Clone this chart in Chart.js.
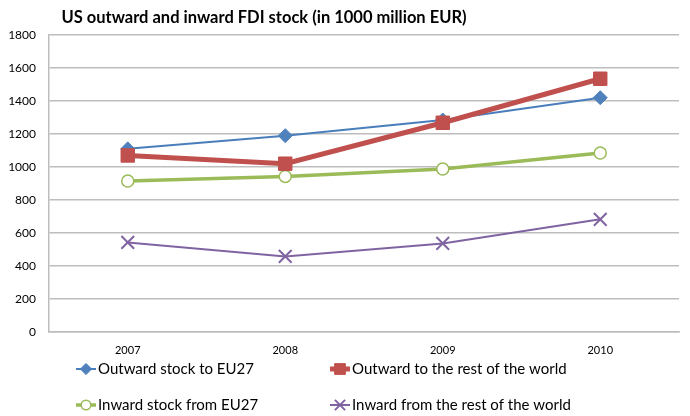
<!DOCTYPE html>
<html lang="en">
<head>
    <meta charset="UTF-8">
    <title>US outward and inward FDI stock</title>
    <style>
        body {
            margin: 0;
            background: white;
        }
        #fdiChart {
            display: block;
        }
    </style>
</head>
<body>
    <canvas id="fdiChart" width="690" height="416"></canvas>

    <script src="https://cdn.jsdelivr.net/npm/chart.js"></script>
    <script>
        const chartTitle = 'US outward and inward FDI stock (in 1000 million EUR)';
        const years = ['2007', '2008', '2009', '2010'];

        // values (1000 million EUR)
        const outwardToEU = [1110, 1190, 1285, 1420];
        const outwardToRest = [1070, 1020, 1268, 1535];
        const inwardFromEU = [915, 943, 988, 1085];
        const inwardFromRest = [543, 458, 537, 683];

        const yMin = 0;
        const yMax = 1800;
        const yStep = 200;

        const seriesNames = [
            'Outward stock to EU27',
            'Outward to the rest of the world',
            'Inward stock from EU27',
            'Inward from the rest of the world'
        ];

        const fontFamily = 'Lato, "Open Sans", sans-serif';
        const gridColor = '#bdbdbd';

        // draws the title and the two-column legend like the original
        const titleAndLegend = {
            id: 'titleAndLegend',
            afterDraw(chart) {
                const ctx = chart.ctx;
                ctx.save();
                ctx.fillStyle = '#000';
                ctx.font = 'bold 16.5px ' + fontFamily;
                ctx.textAlign = 'center';
                ctx.textBaseline = 'middle';
                ctx.fillText(chartTitle, 264, 18);

                const slots = [
                    { x: 97, y: 369 },
                    { x: 351, y: 369 },
                    { x: 97, y: 405 },
                    { x: 351, y: 405 }
                ];
                ctx.font = '15px ' + fontFamily;
                ctx.textAlign = 'left';
                chart.data.datasets.forEach((ds, i) => {
                    const s = slots[i];
                    ctx.strokeStyle = ds.borderColor;
                    ctx.lineWidth = ds.borderWidth;
                    ctx.beginPath();
                    ctx.moveTo(s.x - 21, s.y);
                    ctx.lineTo(s.x - 1, s.y);
                    ctx.stroke();

                    ctx.fillStyle = ds.pointBackgroundColor;
                    ctx.strokeStyle = ds.pointBorderColor;
                    ctx.lineWidth = ds.pointBorderWidth;
                    Chart.helpers.drawPoint(ctx, {
                        pointStyle: ds.pointStyle,
                        radius: ds.pointRadius * 0.8,
                        borderWidth: ds.pointBorderWidth,
                        rotation: 0
                    }, s.x - 11, s.y);

                    ctx.fillStyle = '#000';
                    ctx.fillText(ds.label, s.x + 1, s.y);
                });
                ctx.restore();
            }
        };

        new Chart(document.getElementById('fdiChart'), {
            type: 'line',
            data: {
                labels: years,
                datasets: [{
                        label: seriesNames[0],
                        data: outwardToEU,
                        borderColor: '#4a7ebb',
                        borderWidth: 2,
                        pointStyle: 'rectRot',
                        pointRadius: 7,
                        pointBackgroundColor: '#4f81bd',
                        pointBorderColor: '#4f81bd',
                        pointBorderWidth: 1,
                        order: 2
                    },
                    {
                        label: seriesNames[1],
                        data: outwardToRest,
                        borderColor: '#c0504d',
                        borderWidth: 5,
                        pointStyle: 'rect',
                        pointRadius: 9.5,
                        pointBackgroundColor: '#c0504d',
                        pointBorderColor: '#c0504d',
                        pointBorderWidth: 1,
                        order: 1
                    },
                    {
                        label: seriesNames[2],
                        data: inwardFromEU,
                        borderColor: '#9bbb59',
                        borderWidth: 3.5,
                        pointStyle: 'circle',
                        pointRadius: 6,
                        pointBackgroundColor: '#ffffff',
                        pointBorderColor: '#9bbb59',
                        pointBorderWidth: 1.5,
                        order: 3
                    },
                    {
                        label: seriesNames[3],
                        data: inwardFromRest,
                        borderColor: '#8064a2',
                        borderWidth: 2,
                        pointStyle: 'crossRot',
                        pointRadius: 9,
                        pointBackgroundColor: '#8064a2',
                        pointBorderColor: '#8064a2',
                        pointBorderWidth: 2,
                        order: 4
                    }
                ]
            },
            options: {
                responsive: false,
                animation: false,
                layout: {
                    padding: { top: 35, right: 0, bottom: 60, left: 0 }
                },
                elements: {
                    line: { tension: 0 }
                },
                plugins: {
                    legend: { display: false },
                    title: { display: false },
                    tooltip: { enabled: false }
                },
                scales: {
                    x: {
                        offset: true,
                        grid: { display: false, drawTicks: false },
                        border: { color: gridColor, width: 1.5 },
                        ticks: {
                            color: '#000',
                            padding: 12,
                            font: { family: fontFamily, size: 11 }
                        },
                        afterFit(scale) { scale.height = 24; }
                    },
                    y: {
                        min: yMin,
                        max: yMax,
                        grid: { color: gridColor, lineWidth: 1.5, drawTicks: false },
                        border: { color: gridColor, width: 1.5 },
                        ticks: {
                            stepSize: yStep,
                            color: '#000',
                            padding: 13,
                            font: { family: fontFamily, size: 12 },
                            callback: (value) => String(value)
                        },
                        afterFit(scale) { scale.width = 49; }
                    }
                }
            },
            plugins: [titleAndLegend]
        });
    </script>
</body>
</html>
